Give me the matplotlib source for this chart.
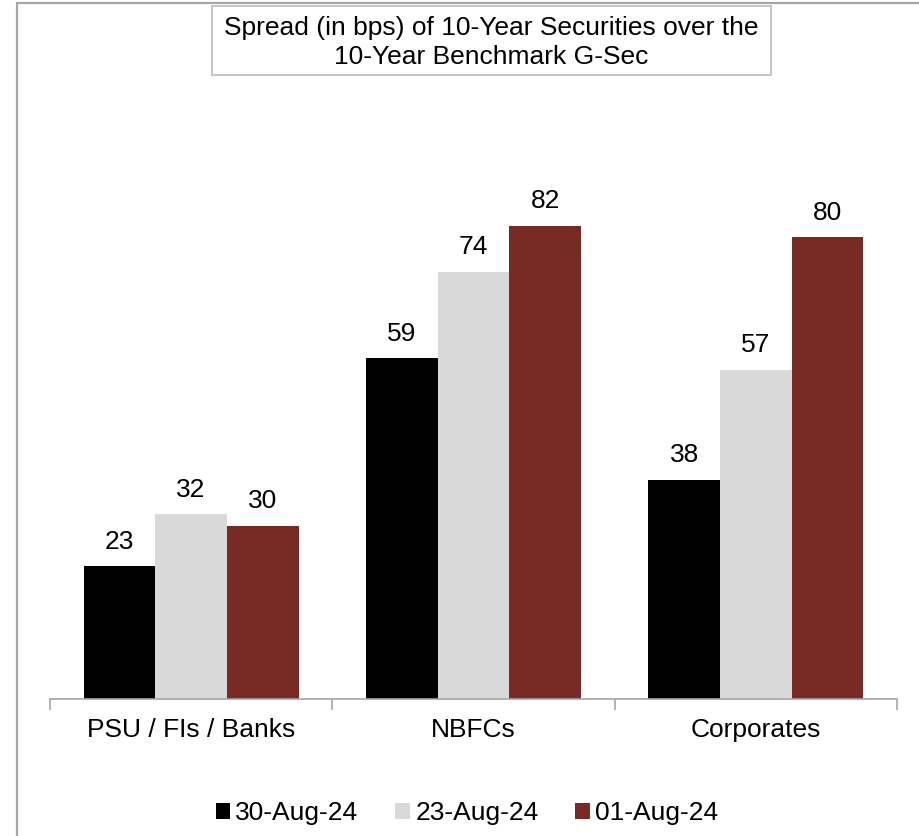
import numpy as np
import matplotlib
matplotlib.use('Agg')
import matplotlib.pyplot as plt
from matplotlib.patches import Rectangle, Patch

plt.rcParams['font.family'] = ['Liberation Sans', 'DejaVu Sans']

categories = ['PSU / FIs / Banks', 'NBFCs', 'Corporates']
series_names = ['30-Aug-24', '23-Aug-24', '01-Aug-24']
values = {
    '30-Aug-24': [23, 59, 38],
    '23-Aug-24': [32, 74, 57],
    '01-Aug-24': [30, 82, 80],
}
colors = ['#000000', '#d9d9d9', '#772b24']
title_lines = ['Spread (in bps) of 10-Year Securities over the', '10-Year Benchmark G-Sec']

W, H = 920, 836
fig = plt.figure(figsize=(W / 100, H / 100), dpi=100)

# outer frame (runs off the right/bottom edge like the source)
fig.patches.append(Rectangle((17 / W, -0.1), 1.2, (H - 3) / H + 0.1, transform=fig.transFigure,
                             fill=False, edgecolor='#a6a6a6', linewidth=1.6))

ax = fig.add_axes([50 / W, 1 - 699 / H, (897 - 50) / W, (699 - 90) / H])
x = np.arange(len(categories))
bw = 0.254
for i, (name, col) in enumerate(zip(series_names, colors)):
    pos = x + (i - 1) * bw
    bars = ax.bar(pos, values[name], bw, color=col, label=name, linewidth=0)
    for b, v in zip(bars, values[name]):
        ax.annotate(str(v), (b.get_x() + b.get_width() / 2, v), xytext=(0, 9),
                    textcoords='offset points', ha='center', va='bottom', fontsize=19)

ax.set_xlim(-0.5, len(categories) - 0.5)
ax.set_ylim(0, 105.5)
ax.set_yticks([])
for s in ['top', 'right', 'left']:
    ax.spines[s].set_visible(False)
ax.spines['bottom'].set_color('#a6a6a6')
ax.spines['bottom'].set_linewidth(1.2)
ax.set_xticks(np.arange(-0.5, len(categories)), minor=False)
ax.set_xticklabels([])
ax.tick_params(axis='x', length=8, color='#a6a6a6', width=1.2)
ax.set_xticks(x, minor=True)
ax.set_xticklabels(categories, minor=True, fontsize=19)
ax.tick_params(axis='x', which='minor', length=0, pad=14)

# title box
fig.patches.append(Rectangle((212 / W, 1 - 75 / H), (771 - 212) / W, (75 - 6) / H,
                             transform=fig.transFigure, fill=True, facecolor='white',
                             edgecolor='#c0c0c0', linewidth=1.3))
fig.text(491.5 / W, 1 - 28 / H, title_lines[0], ha='center', va='center', fontsize=19)
fig.text(491.5 / W, 1 - 57 / H, title_lines[1], ha='center', va='center', fontsize=19)

handles = [Patch(facecolor=c, edgecolor='none') for c in colors]
fig.legend(handles, series_names, loc='center', bbox_to_anchor=(467 / W, 1 - 813 / H),
           ncol=3, frameon=False, fontsize=19, handlelength=0.55, handleheight=0.55,
           handletextpad=0.2, columnspacing=1.4)

fig.savefig('out.png', dpi=100)
